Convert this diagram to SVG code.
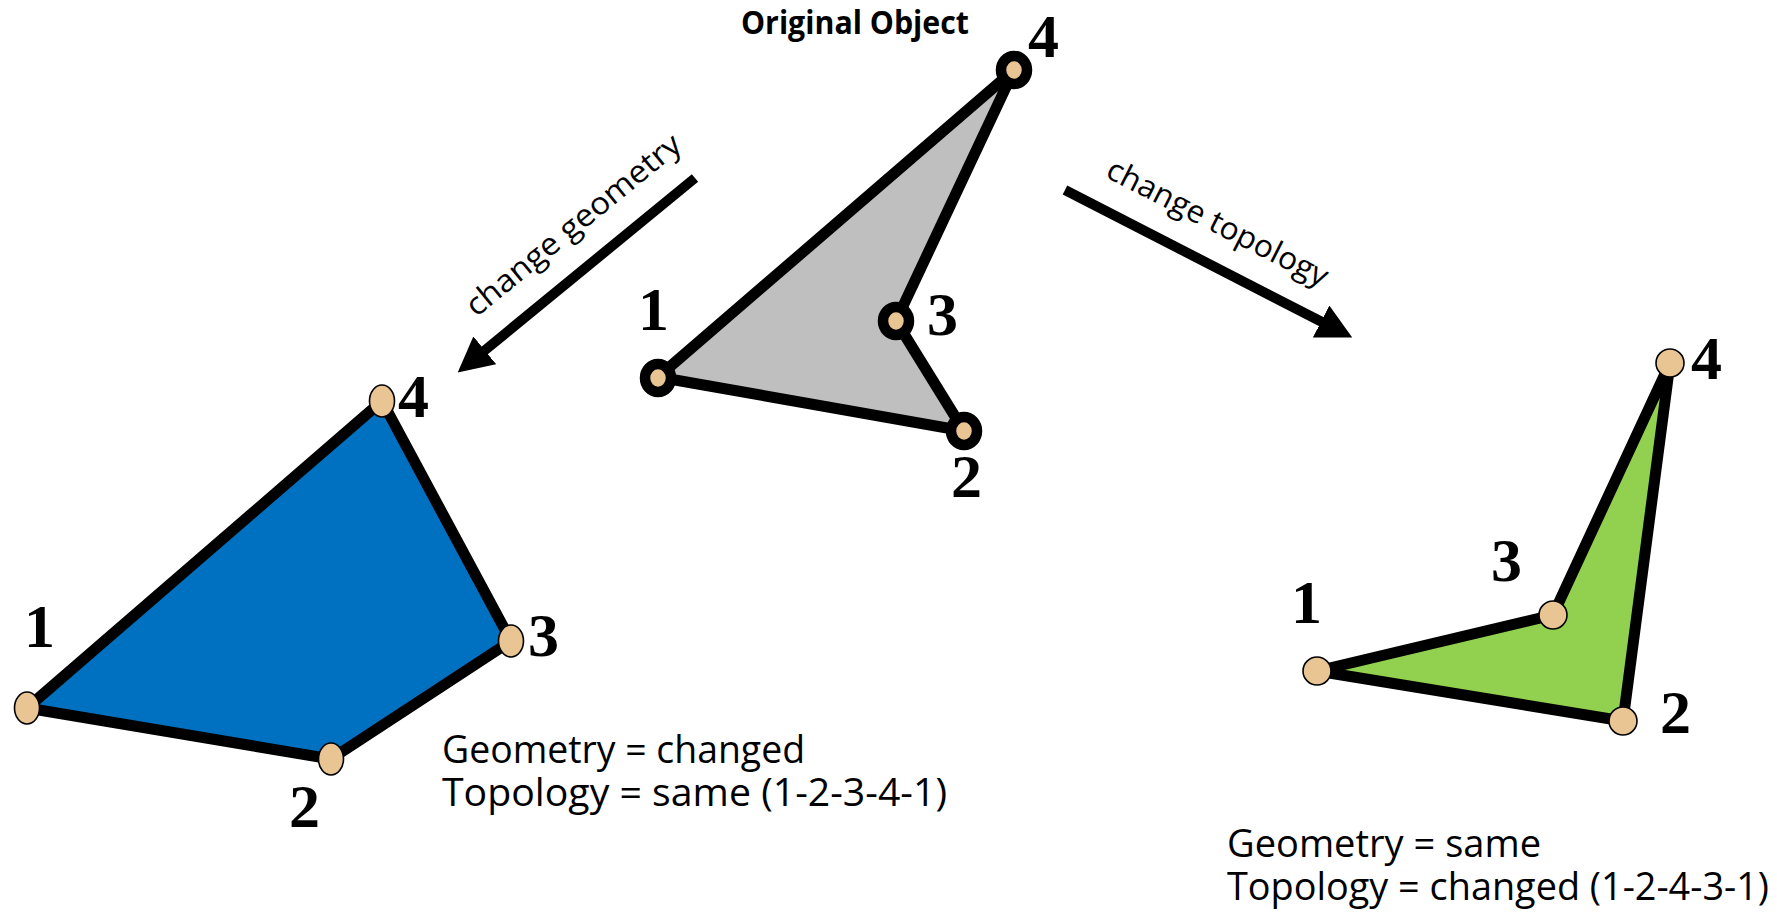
<svg xmlns="http://www.w3.org/2000/svg" width="1777" height="919" viewBox="0 0 1777 919">
  <defs>
    <style>
      .edge { stroke: #000; stroke-width: 11; stroke-linejoin: round; }
      .onode { fill: #e9c593; stroke: #000; stroke-width: 10.5; }
      .node { fill: #e9c593; stroke: #000; stroke-width: 1.6; }
      .num { font-family: "Liberation Serif", "Times New Roman", serif; font-weight: bold; font-size: 62px; fill: #000; }
      .lbl { font-family: "Open Sans", "Liberation Sans", sans-serif; font-size: 38px; fill: #000; }
      .arrtxt { font-family: "Open Sans", "Liberation Sans", sans-serif; font-size: 31px; fill: #000; }
      .title { font-family: "Open Sans", "Liberation Sans", sans-serif; font-weight: bold; font-size: 32px; fill: #000; }
      .arrow { stroke: #000; stroke-width: 10; fill: none; }
    </style>
    <marker id="head" viewBox="0 0 35 36" refX="1" refY="18" markerWidth="35" markerHeight="36" markerUnits="userSpaceOnUse" orient="auto">
      <path d="M0,0 L35,18 L0,36 Z" fill="#000"/>
    </marker>
  </defs>

  <rect width="1777" height="919" fill="#fff"/>

  <g id="connectors">
    <line class="arrow" x1="695" y1="178" x2="484" y2="351" marker-end="url(#head)"/>
    <text class="arrtxt" x="580" y="233" text-anchor="middle" textLength="268" lengthAdjust="spacingAndGlyphs" transform="rotate(-39.3 580 233)">change geometry</text>
    <line class="arrow" x1="1065" y1="190" x2="1322" y2="322" marker-end="url(#head)"/>
    <text class="arrtxt" x="1213" y="232" text-anchor="middle" textLength="244" lengthAdjust="spacingAndGlyphs" transform="rotate(27 1213 232)">change topology</text>
  </g>

  <g id="original-object">
    <text class="title" x="741" y="34" textLength="228" lengthAdjust="spacingAndGlyphs">Original Object</text>
    <polygon class="edge" fill="#bfbfbf" points="658,377 964,431 896,321 1014,70"/>
    <ellipse class="onode" cx="658" cy="378" rx="13" ry="14"/>
    <ellipse class="onode" cx="964" cy="431" rx="13" ry="14"/>
    <ellipse class="onode" cx="896" cy="321" rx="13" ry="14"/>
    <ellipse class="onode" cx="1014" cy="70" rx="13" ry="14"/>
    <text class="num" x="638" y="330">1</text>
    <text class="num" x="951" y="497">2</text>
    <text class="num" x="927" y="335">3</text>
    <text class="num" x="1028" y="57">4</text>
  </g>

  <g id="changed-geometry">
    <polygon class="edge" fill="#0070c0" points="27,708 331,759 511,641 382,401"/>
    <ellipse class="node" cx="27" cy="708" rx="12.5" ry="16"/>
    <ellipse class="node" cx="331" cy="759" rx="12.5" ry="16"/>
    <ellipse class="node" cx="511" cy="641" rx="12.5" ry="16"/>
    <ellipse class="node" cx="382" cy="401" rx="12.5" ry="16"/>
    <text class="num" x="24" y="647">1</text>
    <text class="num" x="289" y="827">2</text>
    <text class="num" x="528" y="656">3</text>
    <text class="num" x="398" y="417">4</text>
    <text class="lbl" x="442" y="763" textLength="363" lengthAdjust="spacingAndGlyphs">Geometry = changed</text>
    <text class="lbl" x="442" y="806" textLength="505" lengthAdjust="spacingAndGlyphs">Topology = same (1-2-3-4-1)</text>
  </g>

  <g id="changed-topology">
    <polygon class="edge" fill="#92d050" points="1317,671 1623,721 1670,363 1553,615"/>
    <circle class="node" cx="1317" cy="671" r="14"/>
    <circle class="node" cx="1623" cy="721" r="14"/>
    <circle class="node" cx="1553" cy="615" r="14"/>
    <circle class="node" cx="1670" cy="363" r="14"/>
    <text class="num" x="1291" y="623">1</text>
    <text class="num" x="1660" y="733">2</text>
    <text class="num" x="1491" y="581">3</text>
    <text class="num" x="1691" y="379">4</text>
    <text class="lbl" x="1227" y="857" textLength="314" lengthAdjust="spacingAndGlyphs">Geometry = same</text>
    <text class="lbl" x="1227" y="900" textLength="542" lengthAdjust="spacingAndGlyphs">Topology = changed (1-2-4-3-1)</text>
  </g>
</svg>
